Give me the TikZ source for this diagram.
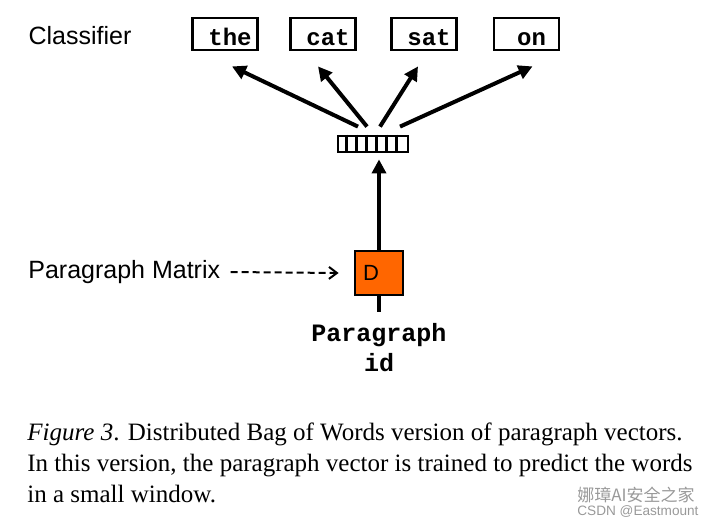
\documentclass[tikz,border=0pt]{standalone}
\usepackage{fontspec}
\setmainfont{Liberation Serif}
\setsansfont{Liberation Sans}
\setmonofont{Liberation Mono}
\newfontfamily\cjkfont{Noto Sans CJK SC}
\usetikzlibrary{arrows.meta}
\definecolor{dorange}{HTML}{FF6600}

\begin{document}
\begin{tikzpicture}[x=0.5pt, y=-0.5pt,
		w/.style = {rectangle, draw, line width=1.4pt, minimum width=32.5pt, minimum height=16pt, inner sep=0pt, text height=11pt, text depth=0pt, font=\ttfamily\bfseries\fontsize{12}{12}\selectfont},
		l/.style = {inner sep=0pt, font=\sffamily\fontsize{12.5}{15}\selectfont},
		v/.style = {rectangle, draw, line width=1.4pt, minimum width=35pt, minimum height=8pt, inner sep=0pt},
		d/.style = {rectangle, draw, line width=1.4pt, fill=dorange, minimum width=24pt, minimum height=22pt, inner sep=0pt},
		r/.style = {-{Triangle[length=7pt,width=7pt]}, line width=2pt},
		dm/.style = {-{Straight Barb[length=4pt,width=6pt]}, line width=1pt, dash pattern=on 3.5pt off 2pt},
		wm/.style = {text=black!40, inner sep=0pt, anchor=west}
		]
		\useasboundingbox (0,0) rectangle (716,527);
		
		%Nodes
		\node[l]	(cls)	at	(80, 36)	{Classifier};
		\node[w]	(the)	at	(225, 34)	{\hspace*{5pt}the};
		\node[w]	(cat)	at	(323, 34)	{\hspace*{5pt}cat};
		\node[w]	(sat)	at	(424, 34)	{\hspace*{5pt}sat};
		\node[w]	(on)	at	(526.5, 34)	{\hspace*{5pt}on};
		\node[v]	(vec)	at	(373, 144)	{};
		\node[d]	(D)	at	(379, 273)	{};
		\node[l, anchor=west, font=\sffamily\fontsize{11}{13}\selectfont]	(dl)	at	([xshift=4.5pt]D.west)	{D};
		\coordinate	(tail)	at	(379, 312);
		\node[l, anchor=west]	(pm)	at	(28, 272)	{Paragraph Matrix};
		\node[font=\ttfamily\bfseries\fontsize{12.5}{15}\selectfont, align=center]	(pid)	at	(379, 348)	{Paragraph\\id};
		\node[anchor=north west, inner sep=0pt, align=left, font=\fontsize{12.5}{15.5}\selectfont]	(cap)	at	(27, 422)
			{\textit{Figure 3}. Distributed Bag of Words version of paragraph vectors.\\
			In this version, the paragraph vector is trained to predict the words\\
			in a small window.};
		\node[wm, font=\cjkfont\fontsize{8.5}{9}\selectfont]	(wm1)	at	(577, 495)	{娜璋AI安全之家};
		\node[wm, font=\sffamily\fontsize{6.8}{8}\selectfont]	(wm2)	at	(577, 511)	{CSDN @Eastmount};
		
		%Vector cells
		\foreach \i in {1,...,6}
			\draw[line width=1.4pt]	([xshift=\i*5pt]vec.north west) -- ([xshift=\i*5pt]vec.south west);
		
		%Lines
		\draw[r]	([shift={(-15,-8)}]vec.north)	--	([shift={(7,15)}]the.south);
		\draw[r]	([shift={(-6,-8)}]vec.north)	--	([shift={(-5,15)}]cat.south);
		\draw[r]	([shift={(7,-8)}]vec.north)	--	([shift={(-6,15)}]sat.south);
		\draw[r]	([shift={(27,-8)}]vec.north)	--	([shift={(6,15)}]on.south);
		\draw[r]	(D.north)	--	([yshift=-3pt]vec.south -| D.north);
		\draw[line width=2pt]	(D.south)	--	(tail);
		\draw[dm]	(pm.east)	++(10,0)	--	([xshift=-7.5pt]D.west);
	\end{tikzpicture}
\end{document}
